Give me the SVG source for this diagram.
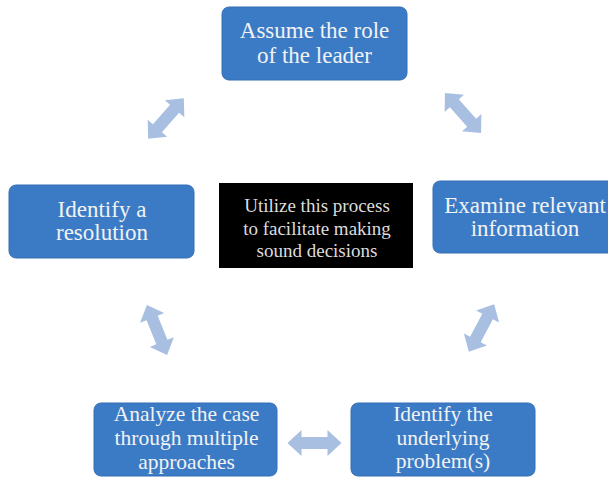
<svg xmlns="http://www.w3.org/2000/svg" width="608" height="477" viewBox="0 0 608 477">
<style>
.box{fill:#3b7bc6;stroke:#356fb4;stroke-width:1}
.t{font-family:"Liberation Serif","Times New Roman",serif;font-size:23px;fill:#f2f2f2;text-anchor:middle}
.t3{font-size:21.5px}
.c{font-family:"Liberation Serif","Times New Roman",serif;font-size:19px;fill:#dcdcdc;text-anchor:middle}
.arr{fill:#a8bfe2}
</style>
<defs>
<path id="dbl" d="M-27,0 L-13,-13 L-13,-6 L13,-6 L13,-13 L27,0 L13,13 L13,6 L-13,6 L-13,13 Z"/>
</defs>
<rect width="608" height="477" fill="#ffffff"/>
<g id="connectors" class="arr">
<use href="#dbl" transform="translate(166,118.5) rotate(-48.7)"/>
<use href="#dbl" transform="translate(463,113) rotate(48)"/>
<use href="#dbl" transform="translate(157,330) rotate(68)"/>
<use href="#dbl" transform="translate(481.5,328) rotate(-62)"/>
<use href="#dbl" transform="translate(314.5,443)"/>
</g>
<g id="n-assume">
<rect class="box" x="222" y="7" width="185" height="73" rx="7"/>
<text class="t" x="314.5" y="38">Assume the role</text>
<text class="t" x="314.5" y="63">of the leader</text>
</g>
<g id="n-examine">
<rect class="box" x="433" y="181" width="184" height="72" rx="7"/>
<text class="t" x="525" y="213">Examine relevant</text>
<text class="t" x="525" y="236">information</text>
</g>
<g id="n-identify-problem">
<rect class="box" x="351" y="403" width="184" height="73" rx="7"/>
<text class="t t3" x="443" y="420.5">Identify the</text>
<text class="t t3" x="443" y="444.5">underlying</text>
<text class="t t3" x="443" y="468">problem(s)</text>
</g>
<g id="n-analyze">
<rect class="box" x="94" y="403" width="183" height="73" rx="7"/>
<text class="t t3" x="186.5" y="421">Analyze the case</text>
<text class="t t3" x="186.5" y="445">through multiple</text>
<text class="t t3" x="186.5" y="468.5">approaches</text>
</g>
<g id="n-resolution">
<rect class="box" x="9" y="185" width="185" height="73" rx="7"/>
<text class="t" x="102" y="217">Identify a</text>
<text class="t" x="102" y="240">resolution</text>
</g>
<g id="n-center">
<rect x="219" y="183" width="194" height="85" fill="#000000"/>
<text class="c" x="317" y="212">Utilize this process</text>
<text class="c" x="317" y="235">to facilitate making</text>
<text class="c" x="317" y="257">sound decisions</text>
</g>
</svg>
